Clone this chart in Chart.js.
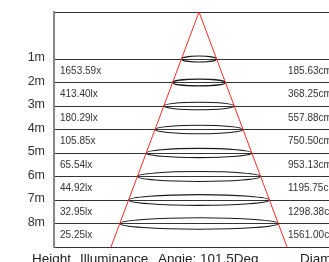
<!DOCTYPE html>
<html>
<head>
<meta charset="utf-8">
<script src="https://cdn.jsdelivr.net/npm/chart.js@4/dist/chart.umd.min.js"></script>
<style>
html,body{margin:0;padding:0;background:#fff;overflow:hidden;}
#wrap{width:329px;height:262px;position:relative;}
</style>
</head>
<body>
<div id="wrap"><canvas id="c" width="329" height="262"></canvas></div>
<script>
// ---- data ----
const heights = [1, 2, 3, 4, 5, 6, 7, 8];
const heightLabels = ['1m', '2m', '3m', '4m', '5m', '6m', '7m', '8m'];
const illuminance = ['1653.59x', '413.40lx', '180.29lx', '105.85x', '65.54lx', '44.92lx', '32.95lx', '25.25lx'];
const diameters = ['185.63cm', '368.25cm', '557.88cm', '750.50cm', '953.13cm', '1195.75cm', '1298.38cm', '1561.00cm'];
const coneX = [-3.745, 0, 3.745];
const coneY = [9, -1, 9];
const footerLabels = ['Height', 'Illuminance', 'Angie: 101.5Deg', 'Diameter'];

const FONT = '"Liberation Sans", Arial, sans-serif';
const apexY = coneY[1], baseY = coneY[0], baseHalf = coneX[2];

const beamPlugin = {
  id: 'beam',
  beforeDatasetsDraw(chart) {
    const ctx = chart.ctx, xs = chart.scales.x, ys = chart.scales.y;
    ctx.save();
    ctx.strokeStyle = '#1a1a1a';
    ctx.lineWidth = 1.1;
    heights.forEach(h => {
      const half = baseHalf * (h - apexY) / (baseY - apexY);
      const cx = xs.getPixelForValue(0);
      const rx = xs.getPixelForValue(half) - cx;
      const ry = 2.2 + rx * 0.045;
      const cy = ys.getPixelForValue(h);
      ctx.beginPath();
      ctx.ellipse(cx, cy, rx, ry, 0, 0, Math.PI * 2);
      ctx.stroke();
    });
    ctx.restore();
  },
  afterDraw(chart) {
    const ctx = chart.ctx, ys = chart.scales.y, a = chart.chartArea;
    ctx.save();
    ctx.fillStyle = '#333';
    ctx.font = '10px ' + FONT;
    ctx.textBaseline = 'middle';
    ctx.textAlign = 'left';
    heights.forEach((h, i) => {
      const y = ys.getPixelForValue(h + 0.5);
      ctx.fillText(illuminance[i], a.left + 6, y);
      ctx.fillText(diameters[i], a.left + 234, y);
    });
    ctx.fillStyle = '#222';
    ctx.font = '13.5px ' + FONT;
    ctx.textBaseline = 'alphabetic';
    const fx = [32, 80, 158, 300];
    footerLabels.forEach((t, i) => ctx.fillText(t, fx[i], 262.5));
    ctx.restore();
  }
};

new Chart(document.getElementById('c'), {
  type: 'scatter',
  data: {
    datasets: [{
      data: coneX.map((x, i) => ({ x: x, y: coneY[i] })),
      showLine: true,
      borderColor: '#ff2a2a',
      borderWidth: 1,
      pointRadius: 0,
      tension: 0,
      clip: false
    }]
  },
  options: {
    responsive: false,
    animation: false,
    devicePixelRatio: 1,
    layout: { autoPadding: false, padding: { top: 12, bottom: 15, left: 0, right: 0 } },
    plugins: { legend: { display: false }, tooltip: { enabled: false } },
    scales: {
      x: { type: 'linear', display: false, min: -6.17, max: 5.53 },
      y: {
        type: 'linear', reverse: true, min: apexY, max: baseY,
        afterBuildTicks: s => { s.ticks = [apexY, ...heights, baseY].map(v => ({ value: v })); },
        afterFit: s => { s.width = 54; s.paddingTop = 0; s.paddingBottom = 0; },
        ticks: {
          autoSkip: false,
          padding: 9,
          labelOffset: -1,
          color: '#333',
          font: { family: FONT, size: 12.5 },
          callback: v => { const i = heights.indexOf(v); return i >= 0 ? heightLabels[i] : ''; }
        },
        grid: { color: '#333', lineWidth: 1, drawTicks: false },
        border: { color: '#888', width: 2 }
      }
    }
  },
  plugins: [beamPlugin]
});
</script>
</body>
</html>
